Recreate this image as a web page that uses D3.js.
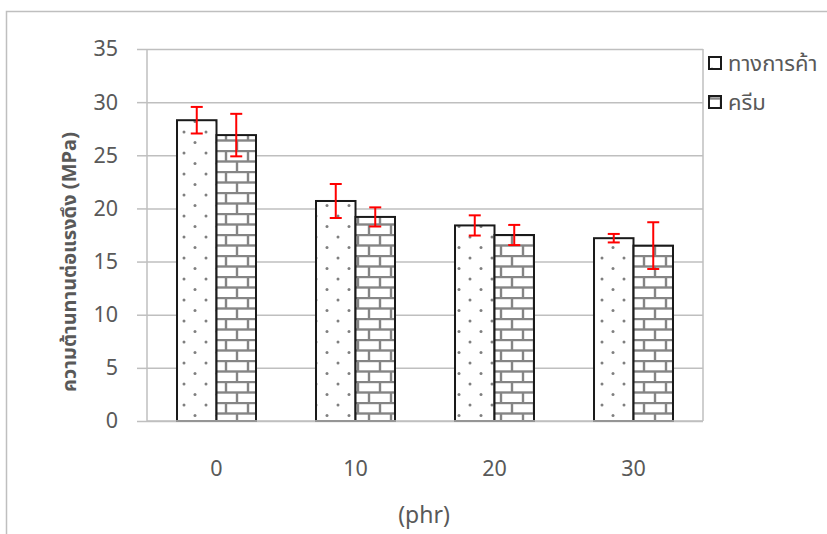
<!DOCTYPE html>
<html>
<head>
<meta charset="utf-8">
<script src="https://cdnjs.cloudflare.com/ajax/libs/d3/7.8.5/d3.min.js"></script>
<style>
  html, body { margin: 0; padding: 0; background: #fff; }
  svg { display: block; }
  text { font-family: "Noto Sans Thai", "Noto Sans", "DejaVu Sans", sans-serif; fill: #595959; }
</style>
</head>
<body>
<svg id="chart" width="827" height="534"></svg>
<script>
// Tensile strength by filler loading (phr), two filler types, with error ranges
const categories = ["0", "10", "20", "30"];
const seriesNames = ["ทางการค้า", "ครีม"];
const commercialValues = [28.3, 20.7, 18.4, 17.2];
const creamValues = [26.9, 19.2, 17.5, 16.5];
const commercialErrors = [1.25, 1.6, 0.95, 0.4];
const creamErrors = [2.0, 0.9, 0.95, 2.2];
const yTicks = [0, 5, 10, 15, 20, 25, 30, 35];
const yTitle = "ความต้านทานต่อแรงดึง (MPa)";
const xTitle = "(phr)";

const series = [
  { name: seriesNames[0], values: commercialValues, errors: commercialErrors, fill: "url(#dots)" },
  { name: seriesNames[1], values: creamValues, errors: creamErrors, fill: "url(#bricks)" }
];

const svg = d3.select("#chart");
const W = 827, H = 534;
const plot = { left: 147, right: 703, top: 49, bottom: 421 };

// Fill patterns
const defs = svg.append("defs");
const dots = defs.append("pattern").attr("id", "dots")
  .attr("patternUnits", "userSpaceOnUse").attr("width", 22).attr("height", 21)
  .attr("x", 3).attr("y", 1);
dots.append("rect").attr("width", 22).attr("height", 21).attr("fill", "#fff");
[[5, 5], [16, 15.5]].forEach(([cx, cy]) =>
  dots.append("circle").attr("cx", cx).attr("cy", cy).attr("r", 1.5).attr("fill", "#7f7f7f"));

const bricks = defs.append("pattern").attr("id", "bricks")
  .attr("patternUnits", "userSpaceOnUse").attr("width", 22).attr("height", 21)
  .attr("x", 4).attr("y", 3);
bricks.append("rect").attr("width", 22).attr("height", 21).attr("fill", "#fff");
const bp = bricks.append("g").attr("stroke", "#858585").attr("stroke-width", 2.4).attr("fill", "none");
bp.append("line").attr("x1", 0).attr("x2", 22).attr("y1", 1).attr("y2", 1);
bp.append("line").attr("x1", 0).attr("x2", 22).attr("y1", 11.5).attr("y2", 11.5);
bp.append("line").attr("x1", 2).attr("x2", 2).attr("y1", 1).attr("y2", 11.5);
bp.append("line").attr("x1", 13).attr("x2", 13).attr("y1", 11.5).attr("y2", 22);

// Outer chart frame
svg.append("rect").attr("x", 6.5).attr("y", 11.5).attr("width", W + 10).attr("height", H + 10)
  .attr("fill", "none").attr("stroke", "#bfbfbf").attr("stroke-width", 1.5);

// Scales
const x = d3.scaleBand().domain(categories).range([plot.left, plot.right]).padding(0);
const xs = d3.scaleBand().domain(seriesNames).range([0, x.bandwidth()])
  .paddingInner(0).paddingOuter(0.76);
const y = d3.scaleLinear().domain([0, 35]).range([plot.bottom, plot.top]);

// Gridlines
svg.append("g").attr("class", "grid")
  .attr("transform", `translate(${plot.left},0)`)
  .call(d3.axisLeft(y).tickValues(yTicks).tickSize(-(plot.right - plot.left)).tickFormat(""))
  .call(g => g.select(".domain").remove())
  .call(g => g.selectAll("line").attr("stroke", "#bfbfbf").attr("stroke-width", 1.5));

// Plot area right border
svg.append("line").attr("x1", plot.right).attr("x2", plot.right)
  .attr("y1", plot.top).attr("y2", plot.bottom)
  .attr("stroke", "#bfbfbf").attr("stroke-width", 1.5);

// Bars
const groups = svg.append("g").selectAll("g").data(series).join("g");
groups.selectAll("rect")
  .data(s => s.values.map((v, i) => ({ cat: categories[i], v, s })))
  .join("rect")
  .attr("x", d => x(d.cat) + xs(d.s.name))
  .attr("y", d => y(d.v))
  .attr("width", xs.bandwidth())
  .attr("height", d => y(0) - y(d.v))
  .attr("fill", d => d.s.fill)
  .attr("stroke", "#1a1a1a").attr("stroke-width", 2);

// Y axis
const yAxis = svg.append("g").attr("transform", `translate(${plot.left},0)`)
  .call(d3.axisLeft(y).tickValues(yTicks).tickSize(10).tickPadding(19).tickFormat(d3.format("d")));
yAxis.select(".domain").attr("stroke", "#bfbfbf").attr("stroke-width", 1.5)
  .attr("d", `M0,${plot.top}V${plot.bottom}`);
yAxis.selectAll(".tick line").attr("stroke", "#bfbfbf").attr("stroke-width", 1.5);
yAxis.selectAll(".tick text").attr("font-size", 21.5).attr("fill", "#595959")
  .style("font-family", "'Noto Sans', sans-serif");

// X axis
const xAxis = svg.append("g").attr("transform", `translate(0,${plot.bottom})`)
  .call(d3.axisBottom(x).tickSize(0).tickPadding(40));
xAxis.select(".domain").attr("stroke", "#bfbfbf").attr("stroke-width", 1.5)
  .attr("d", `M${plot.left},0H${plot.right}`);
xAxis.selectAll(".tick text").attr("font-size", 21.5).attr("fill", "#595959")
  .style("font-family", "'Noto Sans', sans-serif");

// Error bars
const errs = svg.append("g").attr("stroke", "#ff0000").attr("stroke-width", 2);
series.forEach(s => {
  s.values.forEach((v, i) => {
    const cx = x(categories[i]) + xs(s.name) + xs.bandwidth() / 2;
    const hi = y(v + s.errors[i]), lo = y(v - s.errors[i]);
    errs.append("line").attr("x1", cx).attr("x2", cx).attr("y1", hi).attr("y2", lo);
    errs.append("line").attr("x1", cx - 6).attr("x2", cx + 6).attr("y1", hi).attr("y2", hi);
    errs.append("line").attr("x1", cx - 6).attr("x2", cx + 6).attr("y1", lo).attr("y2", lo);
  });
});

// Axis titles
svg.append("text")
  .attr("transform", `translate(76,262) rotate(-90)`)
  .attr("text-anchor", "middle")
  .attr("font-size", 20).attr("font-weight", "bold")
  .text(yTitle);
svg.append("text")
  .attr("x", 424).attr("y", 523)
  .attr("text-anchor", "middle")
  .attr("font-size", 23)
  .text(xTitle);

// Legend
const legend = svg.append("g");
series.forEach((s, i) => {
  const ly = 63 + i * 39;
  legend.append("rect").attr("x", 709).attr("y", ly - 6).attr("width", 12).attr("height", 12)
    .attr("fill", s.fill).attr("stroke", "#1a1a1a").attr("stroke-width", 2);
  legend.append("text").attr("x", 728).attr("y", ly + 8)
    .attr("font-size", 22).text(s.name);
});
</script>
</body>
</html>
